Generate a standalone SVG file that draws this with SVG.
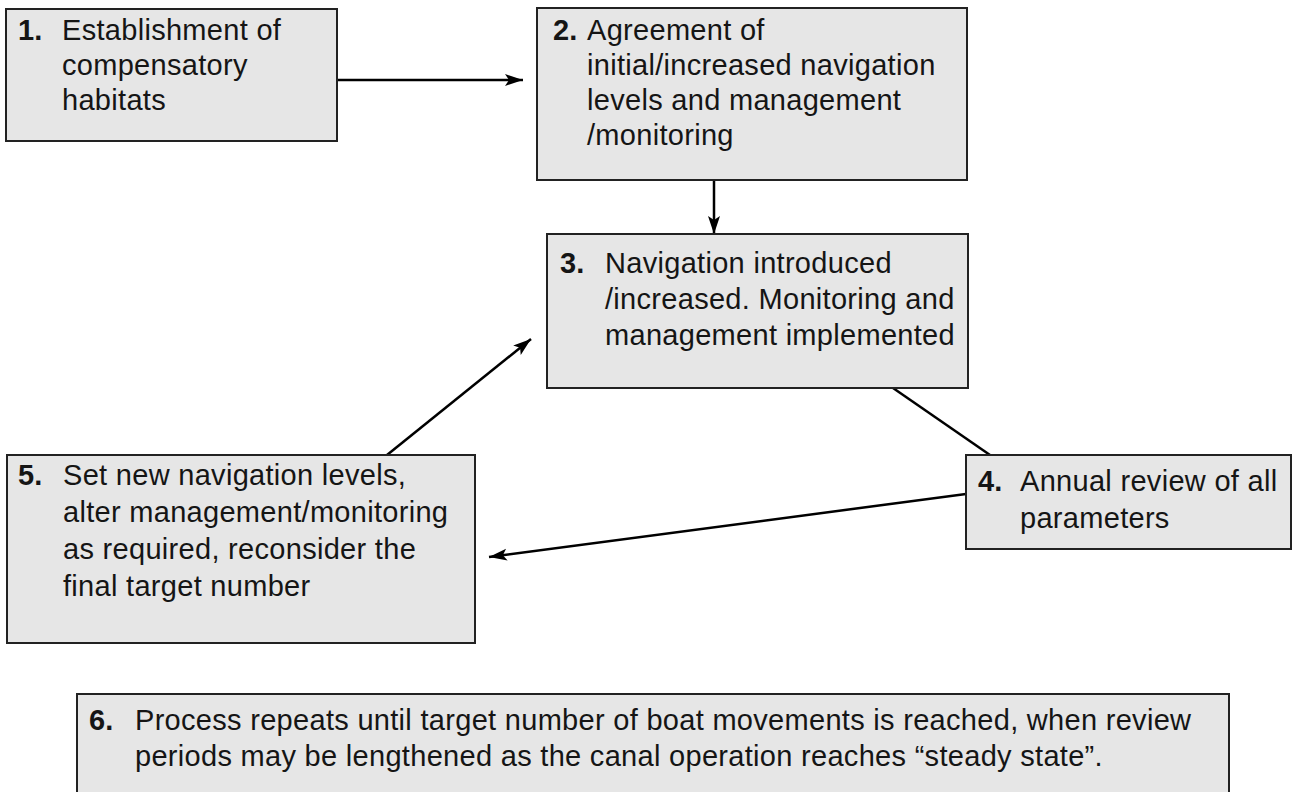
<svg xmlns="http://www.w3.org/2000/svg" width="1293" height="792" viewBox="0 0 1293 792">
<style>
.box{fill:#e6e6e6;stroke:#222;stroke-width:2}
.t{font-family:"Liberation Sans",Arial,sans-serif;font-size:29px;letter-spacing:0.3px;fill:#151515}
.n{font-weight:bold;letter-spacing:0}
.c{stroke:#000;stroke-width:2.5;fill:none}
</style>
<defs>
<marker id="ah" markerUnits="userSpaceOnUse" markerWidth="20" markerHeight="14" refX="18" refY="6" orient="auto">
<path d="M0,0 L18,6 L0,12 L4,6 z" fill="#000"/>
</marker>
</defs>
<rect width="1293" height="792" fill="#fff"/>
<g id="connectors">
<line class="c" x1="337" y1="80" x2="523" y2="80" marker-end="url(#ah)"/>
<line class="c" x1="714" y1="180" x2="714" y2="234" marker-end="url(#ah)"/>
<line class="c" x1="893" y1="388" x2="990" y2="455"/>
<line class="c" x1="966" y1="494" x2="489" y2="557" marker-end="url(#ah)"/>
<line class="c" x1="387" y1="455" x2="531" y2="339" marker-end="url(#ah)"/>
</g>
<g id="node1">
<rect class="box" x="6" y="9" width="331" height="132"/>
<text class="t"><tspan class="n" x="18" y="40">1.</tspan><tspan x="62" y="40">Establishment of</tspan><tspan x="62" y="75">compensatory</tspan><tspan x="62" y="110">habitats</tspan></text>
</g>
<g id="node2">
<rect class="box" x="537" y="8" width="430" height="172"/>
<text class="t"><tspan class="n" x="553" y="40">2.</tspan><tspan x="587" y="40">Agreement of</tspan><tspan x="587" y="75">initial/increased navigation</tspan><tspan x="587" y="110">levels and management</tspan><tspan x="587" y="145">/monitoring</tspan></text>
</g>
<g id="node3">
<rect class="box" x="547" y="234" width="421" height="154"/>
<text class="t"><tspan class="n" x="560" y="273">3.</tspan><tspan x="605" y="273">Navigation introduced</tspan><tspan x="605" y="309">/increased. Monitoring and</tspan><tspan x="605" y="345">management implemented</tspan></text>
</g>
<g id="node4">
<rect class="box" x="966" y="455" width="325" height="94"/>
<text class="t"><tspan class="n" x="978" y="491">4.</tspan><tspan x="1020" y="491">Annual review of all</tspan><tspan x="1020" y="528">parameters</tspan></text>
</g>
<g id="node5">
<rect class="box" x="7" y="455" width="468" height="188"/>
<text class="t"><tspan class="n" x="18" y="485">5.</tspan><tspan x="63" y="485">Set new navigation levels,</tspan><tspan x="63" y="522">alter management/monitoring</tspan><tspan x="63" y="559">as required, reconsider the</tspan><tspan x="63" y="596">final target number</tspan></text>
</g>
<g id="node6">
<rect class="box" x="77" y="694" width="1152" height="110"/>
<text class="t"><tspan class="n" x="89" y="730">6.</tspan><tspan x="135" y="730">Process repeats until target number of boat movements is reached, when review</tspan><tspan x="135" y="766">periods may be lengthened as the canal operation reaches “steady state”.</tspan></text>
</g>
</svg>
